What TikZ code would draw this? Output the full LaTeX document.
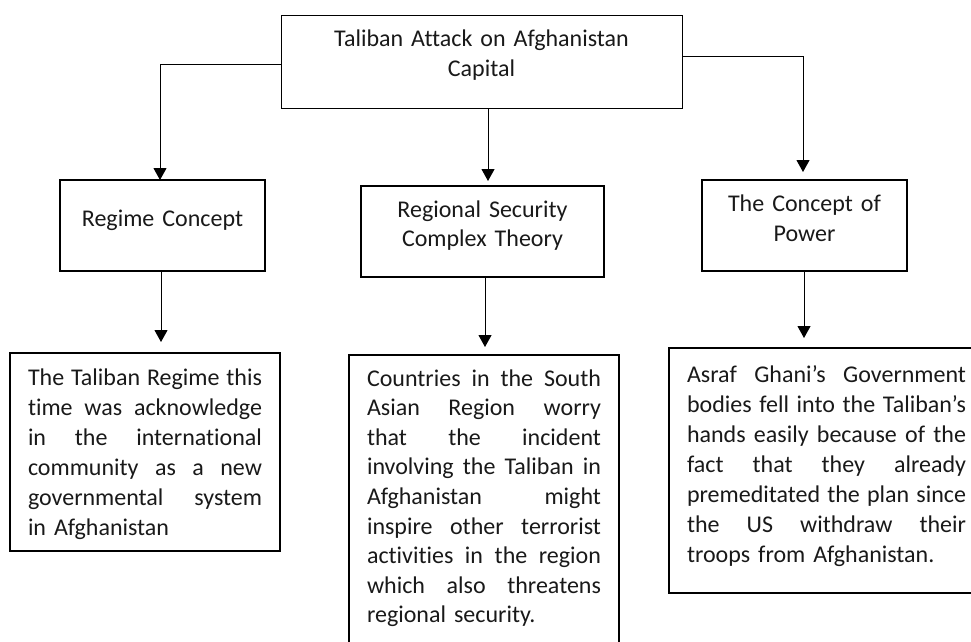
\documentclass[tikz,border=0pt]{standalone}
\usepackage{fontspec}
\setmainfont{Carlito}[Ligatures={NoCommon}]
\usetikzlibrary{arrows.meta}
\newcommand{\jl}[2]{\leavevmode\hbox to #1{\spaceskip=0.25em plus 10em minus 0.06em\relax #2}}
\begin{document}
\begin{tikzpicture}[x=1pt,y=-1pt,
  thinbox/.style={draw, line width=1pt, inner sep=0pt, outer sep=0pt},
  thickbox/.style={draw, line width=1.8pt, inner sep=0pt, outer sep=0pt},
  txt/.style={inner sep=0pt, outer sep=0pt, text=black!90, font=\fontsize{24}{30}\selectfont},
  txtb/.style={txt, font=\fontsize{24}{29.6}\selectfont},
  arr/.style={line width=1pt, -{Triangle[width=13pt,length=12pt]}}]
\useasboundingbox (0,0) rectangle (971,641);
% boxes
\node[thinbox, minimum width=401pt, minimum height=93pt] (top) at (481.5,61.5) {};
\node[thickbox, minimum width=205pt, minimum height=91pt] (regime) at (162.5,225.5) {};
\node[thickbox, minimum width=243pt, minimum height=91pt] (rsct) at (482.5,231.5) {};
\node[thickbox, minimum width=205pt, minimum height=91pt] (power) at (804.5,225.5) {};
\node[thickbox, minimum width=270pt, minimum height=198pt] (b1) at (145,452) {};
\node[thickbox, minimum width=270pt, minimum height=300pt] (b2) at (484,505) {};
\node[thickbox, minimum width=306pt, minimum height=245pt] (b3) at (822,470.5) {};
% texts
\node[txt, text width=401pt, align=center, anchor=base] (toptxt) at (481.5,46) {Taliban Attack on Afghanistan\\Capital};
\node[txt, text width=205pt, align=center, anchor=base] (regimetxt) at (162.5,226) {Regime Concept};
\node[txt, font=\fontsize{24}{29}\selectfont, text width=243pt, align=center, anchor=base] (rscttxt) at (482.5,217.5) {Regional Security\\Complex Theory};
\node[txt, font=\fontsize{24}{29.5}\selectfont, text width=205pt, align=center, anchor=base] (powertxt) at (804.5,211.5) {The Concept of\\Power};
\node[txt, text width=234pt, align=left, anchor=base west] (b1txt) at (28,385.5) {%
\jl{234pt}{The Taliban Regime this}\\
\jl{234pt}{time was acknowledge}\\
\jl{234pt}{in the international}\\
\jl{234pt}{community as a new}\\
\jl{234pt}{governmental system}\\
in Afghanistan};
\node[txtb, text width=234pt, align=left, anchor=base west] (b2txt) at (367,386) {%
\jl{234pt}{Countries in the South}\\
\jl{234pt}{Asian Region worry}\\
\jl{234pt}{that the incident}\\
\jl{234pt}{involving the Taliban in}\\
\jl{234pt}{Afghanistan might}\\
\jl{234pt}{inspire other terrorist}\\
\jl{234pt}{activities in the region}\\
\jl{234pt}{which also threatens}\\
regional security.};
\node[txt, text width=279pt, align=left, anchor=base west] (b3txt) at (687,382) {%
\jl{279pt}{Asraf Ghani’s Government}\\
\jl{279pt}{bodies fell into the Taliban’s}\\
\jl{279pt}{hands easily because of the}\\
\jl{279pt}{fact that they already}\\
\jl{279pt}{premeditated the plan since}\\
\jl{279pt}{the US withdraw their}\\
troops from Afghanistan.};
% connectors
\coordinate (c1) at (160,64);
\coordinate (c2) at (488,0);
\coordinate (c3) at (803,56);
\coordinate (c4) at (161,0);
\coordinate (c5) at (485,0);
\coordinate (c6) at (804,0);
\draw[arr] (top.west |- c1) -- (c1) -- (regime.north -| c1);
\draw[arr, shorten >=5pt] (top.south -| c2) -- (rsct.north -| c2);
\draw[arr, shorten >=8pt] (top.east |- c3) -- (c3) -- (power.north -| c3);
\draw[arr, shorten >=11pt] (regime.south -| c4) -- (b1.north -| c4);
\draw[arr, shorten >=8pt] (rsct.south -| c5) -- (b2.north -| c5);
\draw[arr, shorten >=10pt] (power.south -| c6) -- (b3.north -| c6);
\end{tikzpicture}
\end{document}
